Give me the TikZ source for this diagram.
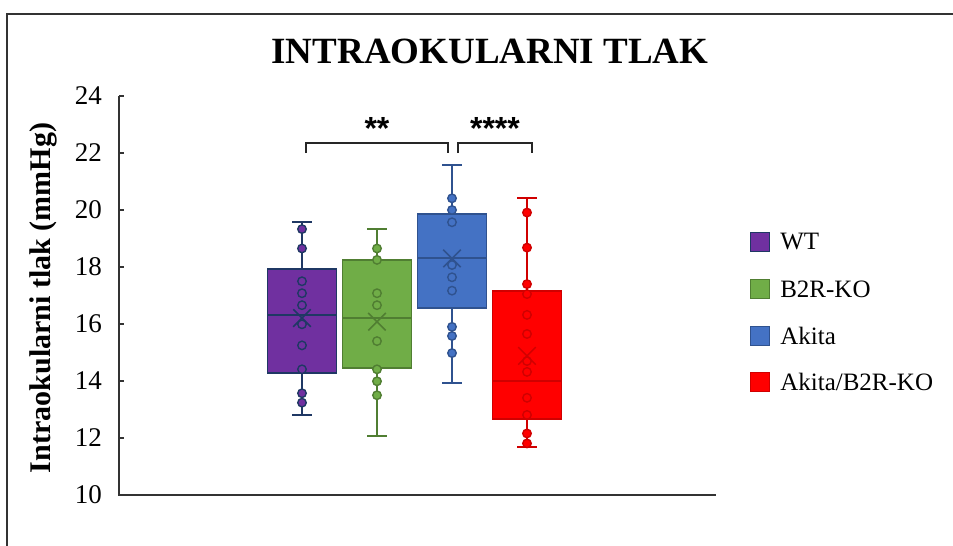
\documentclass[tikz,border=0pt]{standalone}
\usepackage{fontspec}
\setmainfont{Liberation Serif}
\newfontfamily\starfont{Liberation Sans}
\usetikzlibrary{shapes.misc,positioning}
\definecolor{fillwt}{HTML}{7030A0}
\definecolor{linewt}{HTML}{1F3864}
\definecolor{fillko}{HTML}{70AD47}
\definecolor{lineko}{HTML}{507E32}
\definecolor{fillak}{HTML}{4472C4}
\definecolor{lineak}{HTML}{2F528F}
\definecolor{filldk}{HTML}{FF0000}
\definecolor{linedk}{HTML}{D00000}

\begin{document}
\begin{tikzpicture}[x=1pt, y=-1pt,
  boxline/.style={line width=1.9pt},
  dot/.style={circle, draw, line width=1.4pt, inner sep=0pt, minimum size=8.5pt},
  meanx/.style={cross out, draw, line width=1.5pt, inner sep=0pt, minimum size=16pt},
  ticklab/.style={anchor=east, inner sep=0pt, font=\fontsize{27}{27}\selectfont},
  legsq/.style={draw, line width=1.2pt, minimum size=19pt, inner sep=0pt},
  legtext/.style={anchor=west, inner sep=0pt, font=\fontsize{25}{25}\selectfont},
  bracket/.style={line width=1.4pt, black!85},
  stars/.style={inner sep=0pt, font=\starfont\bfseries\fontsize{32}{32}\selectfont}]
\useasboundingbox (0,0) rectangle (953,546);
\draw[line width=1.2pt, black!80] (953,14) -- (7,14) -- (7,546);
\node[font=\fontsize{37}{37}\selectfont\bfseries] (title) at (490,51) {INTRAOKULARNI TLAK};
\node[rotate=90, font=\fontsize{30}{30}\selectfont\bfseries] (ylab) at (43,298) {Intraokularni tlak (mmHg)};
\draw[line width=1.8pt, black!80] (119,96) -- (119,495) -- (716,495);
\begin{scope}[shift={(0,780)}, y=28.5pt]
\foreach \t in {10,12,...,24}
{
  \draw[line width=1.5pt, black!80] (119,\t) -- (124,\t);
  \node[ticklab] (tick\t) at (102,\t) {\t};
}
\foreach \xc/\lo/\qa/\md/\qb/\hi/\mn/\c/\pts in {
  302/12.81/14.28/16.32/17.93/19.58/16.21/wt/{19.33,18.65,17.50,17.08,16.66,15.99,15.25,14.41,13.57,13.24},
  377/12.07/14.47/16.20/18.26/19.32/16.08/ko/{18.65,18.25,17.08,16.66,15.40,14.41,13.99,13.50},
  452/13.92/16.55/18.33/19.85/21.58/18.30/ak/{20.41,20.00,19.57,18.07,17.64,17.17,15.90,15.58,14.98},
  527/11.67/12.66/13.99/17.16/20.43/14.88/dk/{19.91,18.68,17.40,17.05,16.32,15.65,14.70,14.32,13.41,12.81,12.16,11.81}}
{
  \draw[boxline, line\c] (\xc,\lo) -- (\xc,\hi) (\xc-10,\lo) -- (\xc+10,\lo) (\xc-10,\hi) -- (\xc+10,\hi);
  \draw[boxline, draw=line\c, fill=fill\c] (\xc-34.5,\qa) rectangle (\xc+34.5,\qb);
  \foreach \v in \pts
    \node[dot, draw=line\c, fill=fill\c] at (\xc,\v) {};
  \draw[boxline, line\c] (\xc-34.5,\md) -- (\xc+34.5,\md);
  \node[meanx, draw=line\c] (mean\c) at (\xc,\mn) {};
}
\end{scope}
\draw[bracket] (306,153) -- (306,143) -- (448,143) -- (448,153);
\draw[bracket] (458,153) -- (458,143) -- (532,143) -- (532,153);
\node[stars] (sigone) at (377,128) {**};
\node[stars] (sigtwo) at (495,128) {****};
\node[legsq, draw=linewt, fill=fillwt] (legwt) at (760,242) {};
\node[legsq, draw=lineko, fill=fillko] (legko) at (760,289) {};
\node[legsq, draw=lineak, fill=fillak] (legak) at (760,336) {};
\node[legsq, draw=linedk, fill=filldk] (legdk) at (760,382) {};
\node[legtext, right=10pt of legwt] (txtwt) {WT};
\node[legtext, right=10pt of legko] (txtko) {B2R-KO};
\node[legtext, right=10pt of legak] (txtak) {Akita};
\node[legtext, right=10pt of legdk] (txtdk) {Akita/B2R-KO};
\end{tikzpicture}
\end{document}
